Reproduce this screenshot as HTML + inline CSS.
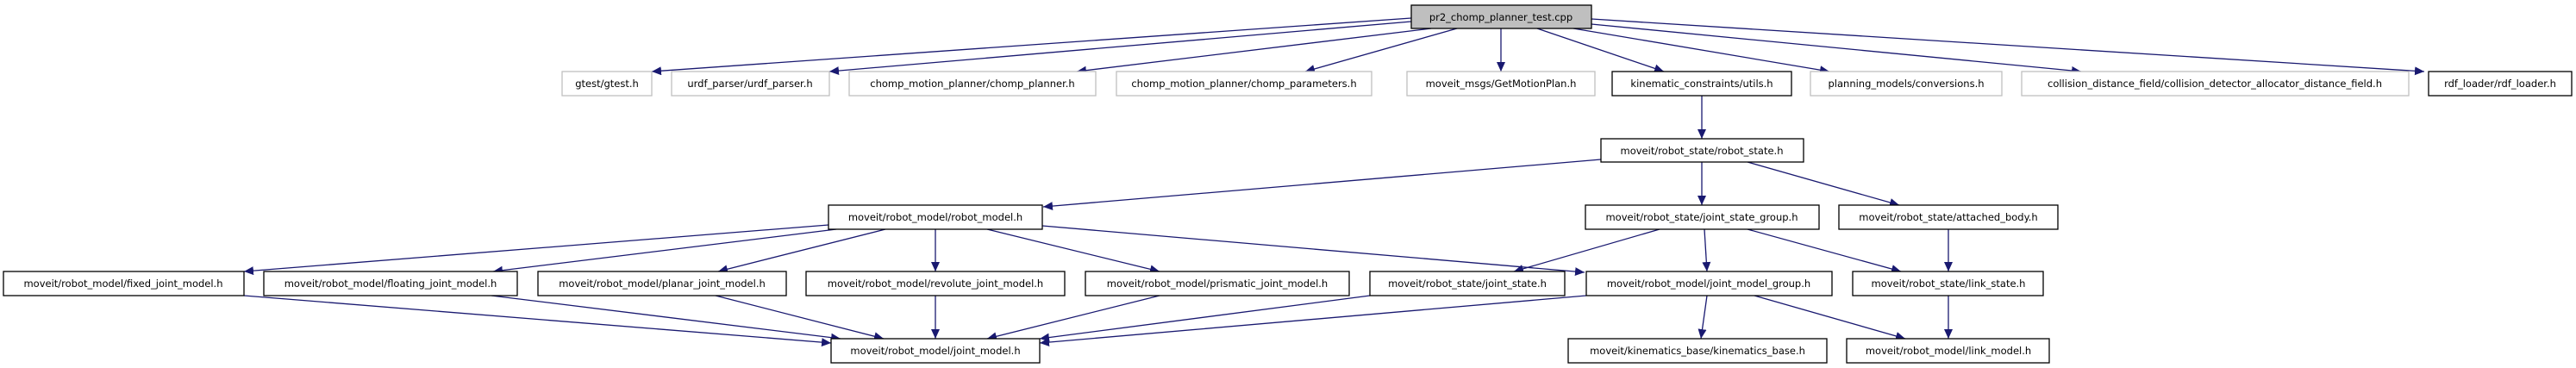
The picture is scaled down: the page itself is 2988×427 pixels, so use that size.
<!DOCTYPE html>
<html><head><meta charset="utf-8"><style>
html,body{margin:0;padding:0;background:#fff;}
svg{display:block;}
text{font-family:"DejaVu Sans","Liberation Sans",sans-serif;font-size:11.5px;fill:#000;}
</style></head><body>
<svg width="2988" height="427" viewBox="0 0 2988 427" xmlns="http://www.w3.org/2000/svg">
<defs>
<marker id="a" markerUnits="userSpaceOnUse" markerWidth="12" markerHeight="10" refX="11" refY="5" orient="auto">
<path d="M0,0 L11,5 L0,10 z" fill="#191970"/>
</marker>
</defs>
<g stroke="#191970" stroke-width="1.3" fill="none" marker-end="url(#a)">
<line x1="1637" y1="21" x2="756" y2="83"/>
<line x1="1637" y1="25" x2="962" y2="83"/>
<line x1="1660" y1="33" x2="1249" y2="83"/>
<line x1="1690" y1="33" x2="1514" y2="83"/>
<line x1="1741" y1="33" x2="1741" y2="83"/>
<line x1="1783" y1="33" x2="1930" y2="83"/>
<line x1="1825" y1="33" x2="2122" y2="83"/>
<line x1="1846" y1="28" x2="2414" y2="83"/>
<line x1="1846" y1="22" x2="2812" y2="83"/>
<line x1="1974" y1="111" x2="1974" y2="161"/>
<line x1="1857" y1="185" x2="1210" y2="240"/>
<line x1="1974" y1="188" x2="1974" y2="238"/>
<line x1="2027" y1="188" x2="2203" y2="238"/>
<line x1="961" y1="261" x2="283" y2="315"/>
<line x1="970" y1="266" x2="572" y2="315"/>
<line x1="1027" y1="266" x2="833" y2="315"/>
<line x1="1085" y1="266" x2="1085" y2="315"/>
<line x1="1145" y1="266" x2="1345" y2="315"/>
<line x1="1209" y1="262" x2="1838" y2="316"/>
<line x1="1925" y1="266" x2="1756" y2="315"/>
<line x1="1977" y1="266" x2="1980" y2="315"/>
<line x1="2027" y1="266" x2="2205" y2="315"/>
<line x1="2260" y1="266" x2="2260" y2="315"/>
<line x1="283" y1="343" x2="964" y2="398"/>
<line x1="570" y1="343" x2="975" y2="393"/>
<line x1="830" y1="343" x2="1025" y2="393"/>
<line x1="1085" y1="343" x2="1085" y2="393"/>
<line x1="1345" y1="343" x2="1145" y2="393"/>
<line x1="1589" y1="343" x2="1206" y2="393"/>
<line x1="1840" y1="343" x2="1206" y2="398"/>
<line x1="1980" y1="343" x2="1973" y2="393"/>
<line x1="2035" y1="343" x2="2210" y2="393"/>
<line x1="2260" y1="343" x2="2260" y2="393"/>
</g>
<g stroke-width="1.3">
<rect x="1637" y="6" width="209" height="27" fill="#bfbfbf" stroke="#000"/>
<g fill="#fff" stroke="#bfbfbf">
<rect x="652" y="83" width="104" height="28"/>
<rect x="779" y="83" width="183" height="28"/>
<rect x="985" y="83" width="286" height="28"/>
<rect x="1295" y="83" width="296" height="28"/>
<rect x="1632" y="83" width="218" height="28"/>
<rect x="2100" y="83" width="222" height="28"/>
<rect x="2345" y="83" width="449" height="28"/>
</g>
<g fill="#fff" stroke="#000">
<rect x="1870" y="83" width="208" height="28"/>
<rect x="2817" y="83" width="166" height="28"/>
<rect x="1857" y="161" width="235" height="27"/>
<rect x="961" y="238" width="248" height="28"/>
<rect x="1839" y="238" width="271" height="28"/>
<rect x="2133" y="238" width="254" height="28"/>
<rect x="4" y="315" width="279" height="28"/>
<rect x="306" y="315" width="294" height="28"/>
<rect x="624" y="315" width="288" height="28"/>
<rect x="935" y="315" width="300" height="28"/>
<rect x="1259" y="315" width="306" height="28"/>
<rect x="1589" y="315" width="226" height="28"/>
<rect x="1840" y="315" width="285" height="28"/>
<rect x="2149" y="315" width="221" height="28"/>
<rect x="964" y="393" width="242" height="28"/>
<rect x="1819" y="393" width="300" height="28"/>
<rect x="2142" y="393" width="235" height="28"/>
</g>
</g>
<g text-anchor="middle">
<text x="1741" y="24">pr2_chomp_planner_test.cpp</text>
<text x="704" y="101">gtest/gtest.h</text>
<text x="870" y="101">urdf_parser/urdf_parser.h</text>
<text x="1128" y="101">chomp_motion_planner/chomp_planner.h</text>
<text x="1443" y="101">chomp_motion_planner/chomp_parameters.h</text>
<text x="1741" y="101">moveit_msgs/GetMotionPlan.h</text>
<text x="1974" y="101">kinematic_constraints/utils.h</text>
<text x="2211" y="101">planning_models/conversions.h</text>
<text x="2569" y="101">collision_distance_field/collision_detector_allocator_distance_field.h</text>
<text x="2900" y="101">rdf_loader/rdf_loader.h</text>
<text x="1974" y="179">moveit/robot_state/robot_state.h</text>
<text x="1085" y="256">moveit/robot_model/robot_model.h</text>
<text x="1974" y="256">moveit/robot_state/joint_state_group.h</text>
<text x="2260" y="256">moveit/robot_state/attached_body.h</text>
<text x="143" y="333">moveit/robot_model/fixed_joint_model.h</text>
<text x="453" y="333">moveit/robot_model/floating_joint_model.h</text>
<text x="768" y="333">moveit/robot_model/planar_joint_model.h</text>
<text x="1085" y="333">moveit/robot_model/revolute_joint_model.h</text>
<text x="1412" y="333">moveit/robot_model/prismatic_joint_model.h</text>
<text x="1702" y="333">moveit/robot_state/joint_state.h</text>
<text x="1982" y="333">moveit/robot_model/joint_model_group.h</text>
<text x="2260" y="333">moveit/robot_state/link_state.h</text>
<text x="1085" y="411">moveit/robot_model/joint_model.h</text>
<text x="1969" y="411">moveit/kinematics_base/kinematics_base.h</text>
<text x="2260" y="411">moveit/robot_model/link_model.h</text>
</g>
</svg>
</body></html>
